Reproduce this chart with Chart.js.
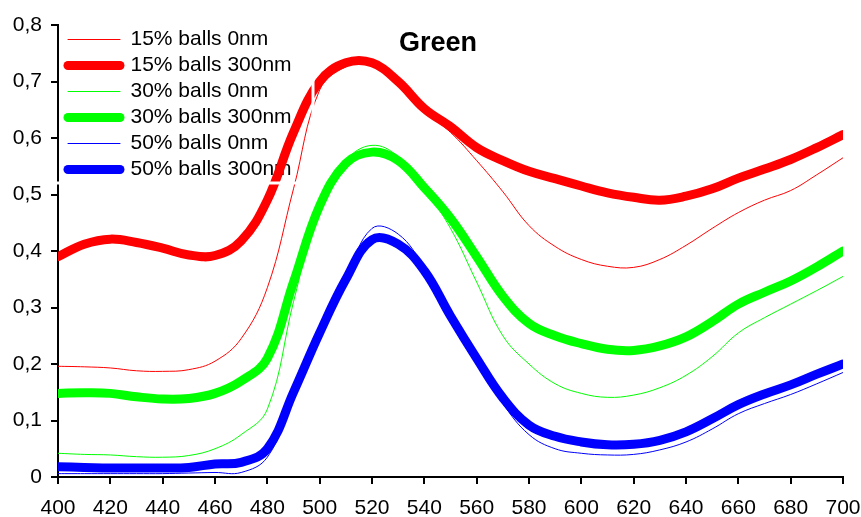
<!DOCTYPE html>
<html>
<head>
<meta charset="utf-8">
<script src="https://cdn.jsdelivr.net/npm/chart.js@4/dist/chart.umd.min.js"></script>
<style>
    body { margin: 0; background: #fff; }
    canvas { display: block; }
</style>
</head>
<body>
<canvas id="chart" width="861" height="517"></canvas>
<script>
// wavelength (nm)
const wavelengths = [400, 410, 420, 430, 440, 450, 460, 470, 480, 490, 500, 510, 520, 530, 540, 550,
    560, 570, 580, 590, 600, 610, 620, 630, 640, 650, 660, 670, 680, 690, 700];

const balls15_0nm = [0.196, 0.195, 0.193, 0.188, 0.187, 0.190, 0.205, 0.245, 0.335, 0.510, 0.685, 0.726,
    0.733, 0.702, 0.648, 0.610, 0.560, 0.505, 0.445, 0.408, 0.385, 0.373, 0.371, 0.385, 0.410, 0.440,
    0.468, 0.490, 0.507, 0.535, 0.565];
const balls15_300nm = [0.390, 0.412, 0.421, 0.415, 0.405, 0.393, 0.392, 0.418, 0.490, 0.610, 0.700, 0.733,
    0.733, 0.700, 0.652, 0.620, 0.583, 0.560, 0.541, 0.528, 0.515, 0.503, 0.495, 0.490, 0.497, 0.510,
    0.529, 0.545, 0.562, 0.583, 0.606];
const balls30_0nm = [0.042, 0.040, 0.039, 0.036, 0.035, 0.038, 0.050, 0.075, 0.120, 0.310, 0.480, 0.560,
    0.587, 0.567, 0.510, 0.440, 0.345, 0.250, 0.200, 0.165, 0.148, 0.141, 0.145, 0.158, 0.180, 0.213,
    0.255, 0.282, 0.306, 0.330, 0.355];
const balls30_300nm = [0.148, 0.149, 0.148, 0.142, 0.138, 0.139, 0.148, 0.170, 0.210, 0.345, 0.480, 0.555,
    0.575, 0.560, 0.512, 0.458, 0.390, 0.320, 0.272, 0.250, 0.236, 0.226, 0.224, 0.232, 0.248, 0.275,
    0.306, 0.327, 0.347, 0.372, 0.400];
const balls50_0nm = [0.006, 0.006, 0.006, 0.006, 0.006, 0.007, 0.008, 0.008, 0.035, 0.140, 0.250, 0.350,
    0.440, 0.430, 0.370, 0.285, 0.205, 0.130, 0.075, 0.050, 0.042, 0.039, 0.040, 0.048, 0.062, 0.085,
    0.112, 0.130, 0.146, 0.165, 0.185];
const balls50_300nm = [0.018, 0.017, 0.016, 0.016, 0.016, 0.017, 0.023, 0.026, 0.050, 0.150, 0.255, 0.350,
    0.420, 0.412, 0.365, 0.285, 0.210, 0.140, 0.092, 0.072, 0.062, 0.057, 0.058, 0.065, 0.080, 0.103,
    0.128, 0.147, 0.163, 0.182, 0.200];

const seriesNames = ['15% balls 0nm', '15% balls 300nm', '30% balls 0nm', '30% balls 300nm',
    '50% balls 0nm', '50% balls 300nm'];
const seriesValues = [balls15_0nm, balls15_300nm, balls30_0nm, balls30_300nm, balls50_0nm, balls50_300nm];
const seriesColors = ['#FF0000', '#FF0000', '#00FF00', '#00FF00', '#0000FF', '#0000FF'];

const FONT = "'Liberation Sans', Arial, sans-serif";

const datasets = seriesNames.map((name, i) => {
    const thick = i % 2 === 1;
    return {
        label: name,
        data: wavelengths.map((w, j) => ({ x: w, y: seriesValues[i][j] })),
        borderColor: seriesColors[i],
        backgroundColor: seriesColors[i],
        borderWidth: thick ? 9 : 1,
        borderCapStyle: 'round',
        borderJoinStyle: 'round',
        pointRadius: 0,
        tension: 0.4,
        fill: false,
    };
});

// legend lives inside the plot area; chart.js resets its top to 0, put it back
const legendNudge = {
    id: 'legendNudge',
    afterLayout(chart) {
        const lg = chart.legend;
        if (!lg) return;
        const h = lg.bottom - lg.top;
        lg.left += 5;
        lg.right += 5;
        lg.top = chart.chartArea.top - 1;
        lg.bottom = lg.top + h;
    },
};

// white border of the original legend box cuts through the axis and red lines
const legendFrame = {
    id: 'legendFrame',
    afterDatasetsDraw(chart) {
        const ctx = chart.ctx;
        ctx.save();
        ctx.strokeStyle = '#fff';
        ctx.lineWidth = 3;
        ctx.strokeRect(48, 8, 265, 175);
        ctx.restore();
    },
};

const chartTitle = {
    id: 'chartTitle',
    afterDraw(chart) {
        const ctx = chart.ctx;
        ctx.save();
        ctx.fillStyle = '#000';
        ctx.font = `bold 27px ${FONT}`;
        ctx.textAlign = 'center';
        ctx.textBaseline = 'middle';
        ctx.fillText('Green', 438, 44);
        ctx.restore();
    },
};

new Chart(document.getElementById('chart'), {
    type: 'line',
    data: { datasets },
    plugins: [legendNudge, legendFrame, chartTitle],
    options: {
        responsive: false,
        animation: false,
        layout: { padding: { top: 25, right: 0, left: 0, bottom: 0 } },
        plugins: {
            title: { display: false },
            tooltip: { enabled: false },
            legend: {
                display: true,
                position: 'chartArea',
                align: 'start',
                labels: {
                    usePointStyle: true,
                    pointStyle: 'line',
                    pointStyleWidth: 52,
                    color: '#000',
                    padding: 5,
                    font: { size: 21, family: FONT },
                    generateLabels: chart => chart.data.datasets.map((ds, i) => ({
                        text: ds.label,
                        datasetIndex: i,
                        fontColor: '#000',
                        fillStyle: ds.borderColor,
                        strokeStyle: ds.borderColor,
                        lineWidth: ds.borderWidth,
                        lineCap: 'round',
                        pointStyle: 'line',
                        hidden: false,
                    })),
                },
            },
        },
        scales: {
            x: {
                type: 'linear',
                min: 400,
                max: 700,
                afterFit: (axis) => {
                    axis.height = 40;
                    axis.paddingRight = 18;
                },
                ticks: {
                    stepSize: 20,
                    color: '#000',
                    padding: 12,
                    maxRotation: 0,
                    font: { size: 21, family: FONT },
                },
                grid: {
                    display: true,
                    drawOnChartArea: false,
                    drawTicks: true,
                    tickLength: 7,
                    color: '#000',
                    lineWidth: 2,
                },
                border: { display: true, color: '#000', width: 2 },
            },
            y: {
                min: 0,
                max: 0.8,
                afterFit: (axis) => { axis.width = 58; },
                ticks: {
                    stepSize: 0.1,
                    color: '#000',
                    padding: 9,
                    font: { size: 21, family: FONT },
                    callback: v => {
                        const r = Math.round(v * 10) / 10;
                        return r === 0 ? '0' : r.toFixed(1).replace('.', ',');
                    },
                },
                grid: {
                    display: true,
                    drawOnChartArea: false,
                    drawTicks: true,
                    tickLength: 7,
                    color: '#000',
                    lineWidth: 2,
                },
                border: { display: true, color: '#000', width: 2 },
            },
        },
    },
});
</script>
</body>
</html>
